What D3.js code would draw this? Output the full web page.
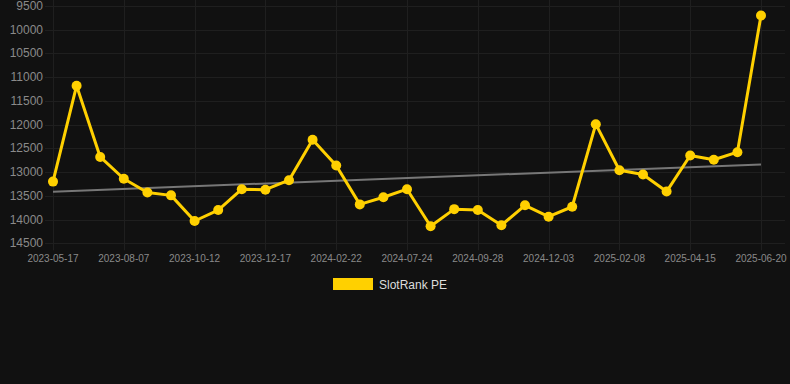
<!DOCTYPE html>
<html>
<head>
<meta charset="utf-8">
<script src="https://cdn.jsdelivr.net/npm/d3@7"></script>
<style>
  html, body { margin: 0; padding: 0; background: #111111; }
  svg { display: block; font-family: "Liberation Sans", Arial, sans-serif; }
</style>
</head>
<body>
<div id="chart"></div>
<script>
// rank per snapshot, lower is better (axis is reversed)
const rankValues = [13200, 11180, 12680, 13140, 13430, 13490, 14030, 13800, 13360, 13370,
  13170, 12320, 12860, 13680, 13530, 13360, 14140, 13780, 13800, 14120,
  13700, 13940, 13730, 11990, 12960, 13050, 13410, 12650, 12740, 12580, 9700];
// only every third snapshot gets a date label
const tickLabels = ['2023-05-17', '2023-08-07', '2023-10-12', '2023-12-17', '2024-02-22',
  '2024-07-24', '2024-09-28', '2024-12-03', '2025-02-08', '2025-04-15', '2025-06-20'];
const yTicks = [9500, 10000, 10500, 11000, 11500, 12000, 12500, 13000, 13500, 14000, 14500];
const seriesName = 'SlotRank PE';

const W = 790, H = 384;
const area = { left: 53, right: 761, top: 6, bottom: 243.3 };

const svg = d3.select('#chart').append('svg')
  .attr('width', W)
  .attr('height', H);

svg.append('rect').attr('width', W).attr('height', H).attr('fill', '#111111');

const idx = d3.range(rankValues.length);
const x = d3.scalePoint().domain(idx).range([area.left, area.right]);
const y = d3.scaleLinear().domain([9500, 14500]).range([area.top, area.bottom]);

const tickIdx = tickLabels.map((d, i) => i * 3);

// grid
svg.append('g')
  .selectAll('line')
  .data(yTicks)
  .join('line')
  .attr('x1', 45).attr('x2', 785)
  .attr('y1', d => Math.round(y(d)) + 0.5).attr('y2', d => Math.round(y(d)) + 0.5)
  .attr('stroke', '#1f1f1f').attr('stroke-width', 1);

svg.append('g')
  .selectAll('line')
  .data(tickIdx)
  .join('line')
  .attr('x1', d => Math.round(x(d)) + 0.5).attr('x2', d => Math.round(x(d)) + 0.5)
  .attr('y1', 0).attr('y2', area.bottom + 7)
  .attr('stroke', '#1f1f1f').attr('stroke-width', 1);

// y axis labels
svg.append('g')
  .selectAll('text')
  .data(yTicks)
  .join('text')
  .attr('x', 43)
  .attr('y', d => y(d) + 4)
  .attr('text-anchor', 'end')
  .attr('fill', '#8a8a8a')
  .attr('font-size', 12)
  .text(d => d);

// x axis labels
svg.append('g')
  .selectAll('text')
  .data(tickIdx)
  .join('text')
  .attr('x', d => x(d))
  .attr('y', 262)
  .attr('text-anchor', 'middle')
  .attr('fill', '#8a8a8a')
  .attr('font-size', 10)
  .text((d, i) => tickLabels[i]);

// least squares trend
const mx = d3.mean(idx), my = d3.mean(rankValues);
const slope = d3.sum(idx, i => (i - mx) * (rankValues[i] - my)) / d3.sum(idx, i => (i - mx) ** 2);
const trend = [0, idx.length - 1].map(i => [x(i), y(my + slope * (i - mx))]);

svg.append('path')
  .attr('d', d3.line()(trend))
  .attr('fill', 'none')
  .attr('stroke', '#777777')
  .attr('stroke-width', 2);

// series
svg.append('path')
  .datum(rankValues)
  .attr('d', d3.line().x((d, i) => x(i)).y(d => y(d)))
  .attr('fill', 'none')
  .attr('stroke', '#ffd000')
  .attr('stroke-width', 3)
  .attr('stroke-linejoin', 'round');

svg.append('g')
  .selectAll('circle')
  .data(rankValues)
  .join('circle')
  .attr('cx', (d, i) => x(i))
  .attr('cy', d => y(d))
  .attr('r', 5)
  .attr('fill', '#ffd000');

// legend
const legend = svg.append('g').attr('transform', 'translate(333,278)');
legend.append('rect').attr('width', 40).attr('height', 12).attr('fill', '#ffd000');
legend.append('text')
  .attr('x', 46).attr('y', 10.5)
  .attr('fill', '#dddddd')
  .attr('font-size', 12)
  .text(seriesName);
</script>
</body>
</html>
